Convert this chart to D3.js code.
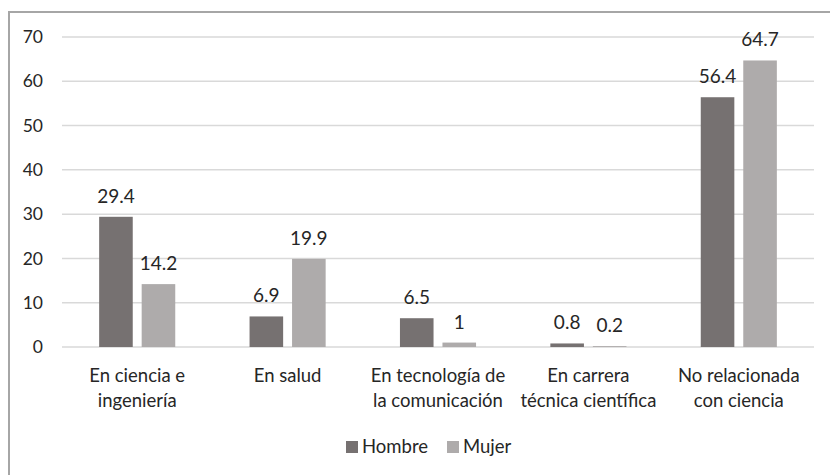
<!DOCTYPE html>
<html>
<head>
<meta charset="utf-8">
<script src="https://cdn.jsdelivr.net/npm/d3@7"></script>
<style>
  body { margin: 0; background: #fff; }
  text { font-family: Lato, "Open Sans", sans-serif; fill: #262626; }
</style>
</head>
<body>
<div id="chart"></div>
<script>
document.addEventListener("DOMContentLoaded", function() {

// data
var categories = [
  ["En ciencia e", "ingeniería"],
  ["En salud"],
  ["En tecnología de", "la comunicación"],
  ["En carrera", "técnica científica"],
  ["No relacionada", "con ciencia"]
];
var seriesNames = ["Hombre", "Mujer"];
var hombre = [29.4, 6.9, 6.5, 0.8, 56.4];
var mujer = [14.2, 19.9, 1, 0.2, 64.7];
var yTicks = [0, 10, 20, 30, 40, 50, 60, 70];

var width = 830, height = 475;
var plot = {left: 62, right: 814, top: 37, bottom: 347};

var svg = d3.select("#chart").append("svg")
  .attr("width", width)
  .attr("height", height);

// outer frame (clipped at right/bottom like the source)
svg.append("rect")
  .attr("x", 9).attr("y", 12)
  .attr("width", 840).attr("height", 480)
  .attr("fill", "none")
  .attr("stroke", "#a6a6a6")
  .attr("stroke-width", 2);

var catKeys = categories.map(function(c) { return c.join(" "); });

var x = d3.scaleBand()
  .domain(catKeys)
  .range([plot.left, plot.right])
  .padding(0);

var xSub = d3.scaleBand()
  .domain(seriesNames)
  .range([0, x.bandwidth()])
  .paddingInner(0.21)
  .paddingOuter(0.874);

var y = d3.scaleLinear()
  .domain([0, 70])
  .range([plot.bottom, plot.top]);

var color = d3.scaleOrdinal()
  .domain(seriesNames)
  .range(["#767171", "#aeabab"]);

// gridlines
svg.append("g")
  .selectAll("line")
  .data(yTicks)
  .enter().append("line")
    .attr("x1", plot.left)
    .attr("x2", plot.right)
    .attr("y1", function(d) { return y(d); })
    .attr("y2", function(d) { return y(d); })
    .attr("stroke", "#d9d9d9")
    .attr("stroke-width", 1.5);

// y axis labels
var yAxis = svg.append("g")
  .attr("transform", "translate(" + (plot.left - 19) + ",0)")
  .call(d3.axisLeft(y).tickValues(yTicks).tickSize(0).tickPadding(0));
yAxis.select(".domain").remove();
yAxis.selectAll("text")
  .style("font-size", "17.5px")
  .style("font-family", "Lato, sans-serif")
  .attr("fill", "#262626");

// bars
var rows = catKeys.map(function(k, i) {
  return {cat: k, values: [{key: "Hombre", value: hombre[i]}, {key: "Mujer", value: mujer[i]}]};
});

var groups = svg.append("g")
  .selectAll("g")
  .data(rows)
  .enter().append("g")
    .attr("transform", function(d) { return "translate(" + x(d.cat) + ",0)"; });

groups.selectAll("rect")
  .data(function(d) { return d.values; })
  .enter().append("rect")
    .attr("x", function(d) { return xSub(d.key); })
    .attr("y", function(d) { return y(d.value); })
    .attr("width", xSub.bandwidth())
    .attr("height", function(d) { return y(0) - y(d.value); })
    .attr("fill", function(d) { return color(d.key); });

groups.selectAll("text.val")
  .data(function(d) { return d.values; })
  .enter().append("text")
    .attr("class", "val")
    .attr("x", function(d) { return xSub(d.key) + xSub.bandwidth() / 2; })
    .attr("y", function(d) { return y(d.value) - 14; })
    .attr("text-anchor", "middle")
    .style("font-size", "19px")
    .text(function(d) { return d.value; });

// category labels
var catLabels = svg.append("g")
  .selectAll("text")
  .data(categories)
  .enter().append("text")
    .attr("x", function(d, i) { return x(catKeys[i]) + x.bandwidth() / 2; })
    .attr("y", 382)
    .attr("text-anchor", "middle")
    .style("font-size", "18.5px");
catLabels.selectAll("tspan")
  .data(function(d) { return d; })
  .enter().append("tspan")
    .attr("x", function() { return d3.select(this.parentNode).attr("x"); })
    .attr("dy", function(d, i) { return i === 0 ? 0 : 24.5; })
    .text(function(d) { return d; });

// legend
var legend = svg.append("g")
  .selectAll("g")
  .data(seriesNames)
  .enter().append("g")
    .attr("transform", function(d, i) { return "translate(" + (346 + i * 101) + ",441)"; });
legend.append("rect")
  .attr("width", 12).attr("height", 12)
  .attr("fill", color);
legend.append("text")
  .attr("x", 16)
  .attr("y", 6)
  .attr("dy", ".35em")
  .style("font-size", "18.5px")
  .text(function(d) { return d; });

});
</script>
</body>
</html>
